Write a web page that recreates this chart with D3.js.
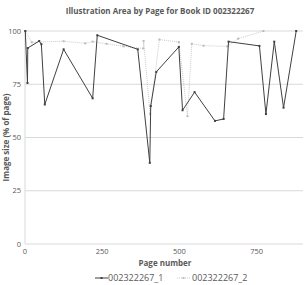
<!DOCTYPE html>
<html>
<head>
<meta charset="utf-8">
<script src="https://cdn.jsdelivr.net/npm/d3@7"></script>
<style>
  body { margin: 0; background: #fff; }
  text { font-family: "Open Sans", "Liberation Sans", sans-serif; fill: #595959; }
</style>
</head>
<body>
<svg id="chart" width="305" height="285"></svg>
<script>
// values
var pages1 = [1, 8, 9, 46, 53, 64, 125, 219, 234, 365, 404, 407, 425, 498, 510, 549, 615, 643, 659, 759, 780, 807, 837, 878];
var sizes1 = [100, 75.6, 92, 95.3, 93.8, 65.5, 91.4, 68.4, 98, 91.4, 38.1, 64.8, 80.8, 92.5, 62.8, 71.3, 57.8, 58.7, 95, 93, 61, 95, 64, 100];
var pages2 = [1, 22, 125, 195, 219, 264, 319, 383, 384, 405, 435, 498, 526, 540, 578, 655, 690, 772];
var sizes2 = [100, 94.7, 95.2, 94.2, 95, 94, 92.8, 91.8, 95.3, 61, 96, 94.8, 60, 94, 93.1, 92.8, 96.4, 100];
var xTicks = [0, 250, 500, 750];
var yTicks = [0, 25, 50, 75, 100];
var seriesNames = ["002322267_1", "002322267_2"];

var svg = d3.select("#chart");
var plotL = 25, plotR = 303, plotT = 31, plotB = 244;

var x = d3.scaleLinear().domain([0, 900]).range([plotL, plotR]);
var y = d3.scaleLinear().domain([0, 100]).range([plotB, plotT]);

// title
svg.append("text").attr("x", 160).attr("y", 14)
    .attr("text-anchor", "middle").attr("font-size", 8).attr("font-weight", "bold")
    .text("Illustration Area by Page for Book ID 002322267");

// gridlines
svg.append("g").selectAll("line").data(yTicks).enter().append("line")
    .attr("x1", plotL).attr("x2", plotR)
    .attr("y1", function (d) { return y(d); }).attr("y2", function (d) { return y(d); })
    .attr("stroke", "#d9d9d9").attr("stroke-width", 1);
svg.append("line").attr("x1", plotL).attr("x2", plotL).attr("y1", plotT).attr("y2", plotB)
    .attr("stroke", "#d9d9d9");

// y axis labels
svg.append("g").selectAll("text").data(yTicks).enter().append("text")
    .attr("x", plotL - 4).attr("y", function (d) { return y(d) + 2.5; })
    .attr("text-anchor", "end").attr("font-size", 7.5)
    .text(function (d) { return d; });

// x axis labels
svg.append("g").selectAll("text").data(xTicks).enter().append("text")
    .attr("x", function (d) { return x(d); }).attr("y", 254)
    .attr("text-anchor", "middle").attr("font-size", 7.5)
    .text(function (d) { return d; });

// axis titles
svg.append("text").attr("x", 165).attr("y", 266)
    .attr("text-anchor", "middle").attr("font-size", 8).attr("font-weight", "bold")
    .text("Page number");
svg.append("text").attr("transform", "translate(9," + ((plotT + plotB) / 2) + ") rotate(-90)")
    .attr("text-anchor", "middle").attr("font-size", 8).attr("font-weight", "bold")
    .text("Image size (% of page)");

var line = d3.line().x(function (d) { return x(d[0]); }).y(function (d) { return y(d[1]); });
var data2 = d3.zip(pages2, sizes2);
var data1 = d3.zip(pages1, sizes1);

// series 2: dotted light gray
svg.append("path").datum(data2).attr("d", line)
    .attr("fill", "none").attr("stroke", "#bcbcbc").attr("stroke-width", 0.8)
    .attr("stroke-dasharray", "1,1");
svg.append("g").selectAll("rect").data(data2).enter().append("rect")
    .attr("x", function (d) { return x(d[0]) - 1; }).attr("y", function (d) { return y(d[1]) - 1; })
    .attr("width", 2).attr("height", 2).attr("fill", "#bcbcbc");

// series 1: solid dark gray
svg.append("path").datum(data1).attr("d", line)
    .attr("fill", "none").attr("stroke", "#404040").attr("stroke-width", 1);
svg.append("g").selectAll("rect").data(data1).enter().append("rect")
    .attr("x", function (d) { return x(d[0]) - 1; }).attr("y", function (d) { return y(d[1]) - 1; })
    .attr("width", 2).attr("height", 2).attr("fill", "#404040");

// legend
var lg = svg.append("g").attr("transform", "translate(0,281)");
lg.append("line").attr("x1", 95).attr("x2", 108).attr("y1", -3).attr("y2", -3)
    .attr("stroke", "#404040").attr("stroke-width", 1);
lg.append("rect").attr("x", 100.5).attr("y", -4).attr("width", 2).attr("height", 2).attr("fill", "#404040");
lg.append("text").attr("x", 108).attr("y", 0).attr("font-size", 9).text(seriesNames[0]);
lg.append("line").attr("x1", 177).attr("x2", 190).attr("y1", -3).attr("y2", -3)
    .attr("stroke", "#bcbcbc").attr("stroke-width", 0.8).attr("stroke-dasharray", "1,1");
lg.append("rect").attr("x", 182.5).attr("y", -4).attr("width", 2).attr("height", 2).attr("fill", "#bcbcbc");
lg.append("text").attr("x", 192).attr("y", 0).attr("font-size", 9).text(seriesNames[1]);
</script>
</body>
</html>
